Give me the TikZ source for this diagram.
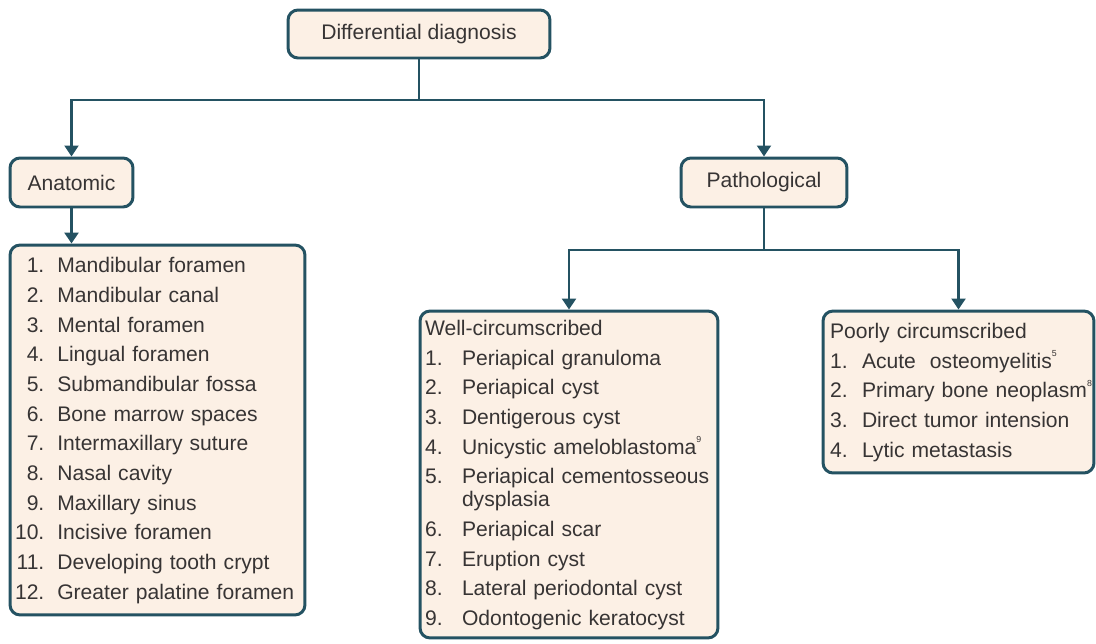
\documentclass[tikz,border=0pt]{standalone}
\usepackage{fontspec}
\setmainfont{Liberation Sans}
\usetikzlibrary{arrows.meta}
\definecolor{boxline}{RGB}{36,82,98}
\definecolor{boxfill}{RGB}{252,240,229}
\definecolor{txt}{RGB}{55,52,52}
\newcommand{\supnum}[1]{\raisebox{0.55em}{\fontsize{5}{5}\selectfont #1}}

\begin{document}
\begin{tikzpicture}[x=0.02cm,y=-0.02cm,
	box/.style={draw=boxline, line width=1.7pt, fill=boxfill, rounded corners=0.2cm,
		text=txt, font=\fontsize{12}{16.9}\selectfont, inner sep=0pt},
	list/.style={box, align=left, inner ysep=0pt},
	conn/.style={draw=boxline, line width=1.3pt, -{Triangle[width=0.28cm,length=0.22cm]}}]
	\useasboundingbox (0,0) rectangle (1096,643);
	
	\node[box, minimum width=5.24cm, minimum height=0.96cm] (dd) at (419,34) {Differential diagnosis};
	\node[box, minimum width=2.46cm, minimum height=0.98cm] (anat) at (71.5,182.5) {Anatomic};
	\node[box, minimum width=3.32cm, minimum height=0.98cm] (path) at (764,182.5) {Pathological};
	
	\node[list, inner xsep=0.1cm, text width=5.7cm, minimum height=7.4cm] (alist) at (157.5,430) {%
		\begin{tabular}{@{}r@{\hspace{0.26cm}}l@{}}
			1. & Mandibular foramen\\
			2. & Mandibular canal\\
			3. & Mental foramen\\
			4. & Lingual foramen\\
			5. & Submandibular fossa\\
			6. & Bone marrow spaces\\
			7. & Intermaxillary suture\\
			8. & Nasal cavity\\
			9. & Maxillary sinus\\
			10. & Incisive foramen\\
			11. & Developing tooth crypt\\
			12. & Greater palatine foramen
		\end{tabular}};
	
	\node[list, inner xsep=0.1cm, text width=5.76cm, minimum height=6.54cm] (well) at (569,474.5) {%
		\begin{tabular}{@{}p{0.74cm}@{}l@{}}
			\multicolumn{2}{@{}l@{}}{Well-circumscribed}\\
			1. & Periapical granuloma\\
			2. & Periapical cyst\\
			3. & Dentigerous cyst\\
			4. & Unicystic ameloblastoma\supnum{9}\\
			5. & Periapical cementosseous\\[-3.85pt]
			& dysplasia\\
			6. & Periapical scar\\
			7. & Eruption cyst\\
			8. & Lateral periodontal cyst\\
			9. & Odontogenic keratocyst
		\end{tabular}};
	
	\node[list, inner xsep=0.14cm, text width=5.14cm, minimum height=3.24cm] (poor) at (958.5,392) {%
		\begin{tabular}{@{}p{0.64cm}@{}l@{}}
			\multicolumn{2}{@{}l@{}}{Poorly circumscribed}\\
			1. & Acute\ \ osteomyelitis\supnum{5}\\
			2. & Primary bone neoplasm\supnum{8}\\
			3. & Direct tumor intension\\
			4. & Lytic metastasis
		\end{tabular}};
	
	\coordinate (s1) at (dd.south |- 0,100);
	\draw[boxline, line width=1.3pt] (dd) -- (s1);
	\foreach \t in {anat,path}
		\draw[conn] (s1) -| (\t.north);
	
	\draw[conn] (anat.south) -- (anat.south |- alist.north);
	
	\coordinate (s2) at (path.south |- 0,250);
	\draw[boxline, line width=1.3pt] (path) -- (s2);
	\foreach \t in {well,poor}
		\draw[conn] (s2) -| (\t.north);
\end{tikzpicture}
\end{document}
